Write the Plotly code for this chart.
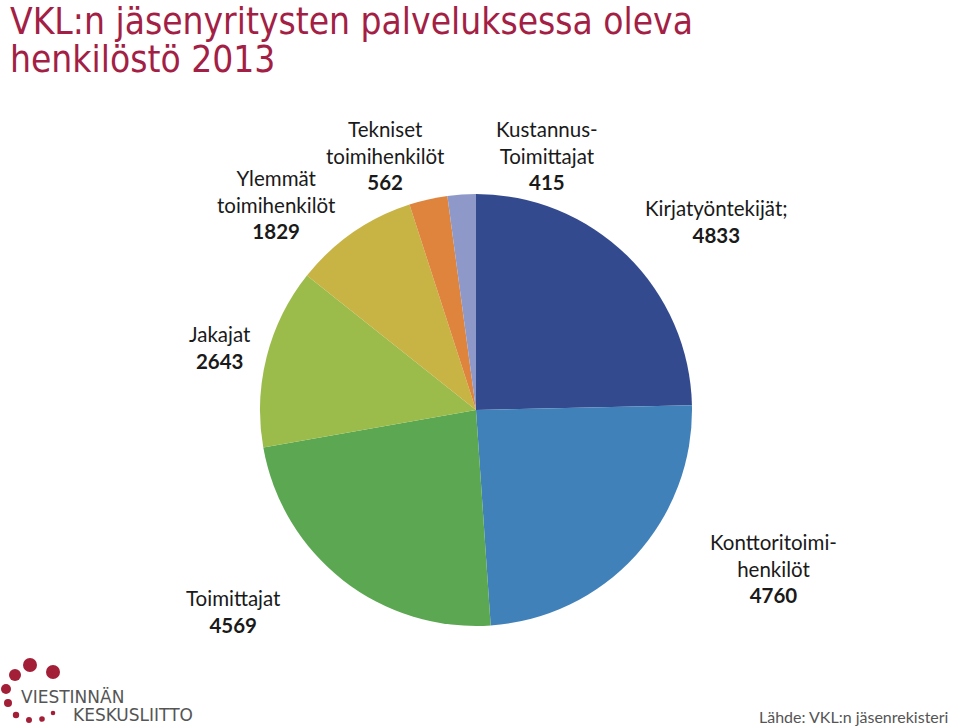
import plotly.graph_objects as go

categories = ["Kirjatyöntekijät", "Konttoritoimihenkilöt", "Toimittajat", "Jakajat",
              "Ylemmät toimihenkilöt", "Tekniset toimihenkilöt", "Kustannus-Toimittajat"]
values = [4833, 4760, 4569, 2643, 1829, 562, 415]
colors = ["#344A8E", "#4181B9", "#5BA752", "#9BBB4A", "#C8B444", "#DE843C", "#8E99C9"]

# label text (name lines) and pixel anchor (x center, y of first line)
label_names = ["Kirjatyöntekijät;", "Konttoritoimi-<br>henkilöt", "Toimittajat", "Jakajat",
               "Ylemmät<br>toimihenkilöt", "Tekniset<br>toimihenkilöt", "Kustannus-<br>Toimittajat"]
label_pos = [(716, 208), (773, 542), (233, 598), (220, 334), (276, 178), (385, 129), (547, 129)]

title_lines = ["VKL:n jäsenyritysten palveluksessa oleva", "henkilöstö 2013"]
source_text = "Lähde: VKL:n jäsenrekisteri"

W, H = 960, 728
cx, cy, r = 476, 410, 216

fig = go.Figure()
fig.add_trace(go.Pie(
    labels=categories, values=values, sort=False, direction="clockwise", rotation=0,
    marker=dict(colors=colors, line=dict(color="white", width=0)),
    textinfo="none", hoverinfo="label+value", showlegend=False,
    domain=dict(x=[(cx - r) / W, (cx + r) / W], y=[(H - cy - r) / H, (H - cy + r) / H]),
))

font_lbl = "Lato, 'Open Sans', sans-serif"
for name, val, (x, y) in zip(label_names, values, label_pos):
    text = f"{name}<br><b>{val}</b>"
    ytop = y - 14
    fig.add_annotation(x=x / W, y=1 - ytop / H, xref="paper", yref="paper",
                       text=text, showarrow=False, xanchor="center", yanchor="top",
                       font=dict(family=font_lbl, size=20.5, color="#1a1a1a"),
                       align="center")

# title (two separate lines to get tight line spacing)
title_font = dict(family="'DejaVu Sans Condensed', 'DejaVu Sans', sans-serif", size=36.8, color="#A31F45")
for line, ytop in zip(title_lines, [-2, 36]):
    fig.add_annotation(x=8 / W, y=1 - ytop / H, xref="paper", yref="paper", xanchor="left", yanchor="top",
                       text=line, showarrow=False, align="left", font=title_font)

# source
fig.add_annotation(x=950 / W, y=1 - 716 / H, xref="paper", yref="paper", xanchor="right", yanchor="middle",
                   text=source_text, showarrow=False,
                   font=dict(family=font_lbl, size=16, color="#555555"))

# logo
dots = [(30, 665, 7), (53, 672, 7), (15, 675, 6), (6, 689, 5), (8, 703, 4),
        (16, 715, 3.2), (29, 720, 3), (42, 719, 2.8), (53, 713, 2.3)]
for x, y, rr in dots:
    fig.add_shape(type="circle", xref="paper", yref="paper",
                  x0=(x - rr) / W, x1=(x + rr) / W, y0=1 - (y + rr) / H, y1=1 - (y - rr) / H,
                  fillcolor="#A31F37", line=dict(width=0))
fig.add_annotation(x=19 / W, y=1 - 697 / H, xref="paper", yref="paper", xanchor="left", yanchor="middle",
                   text="VIESTINNÄN", showarrow=False,
                   font=dict(family="'DejaVu Sans', sans-serif", size=17, color="#555555"))
fig.add_annotation(x=71 / W, y=1 - 715 / H, xref="paper", yref="paper", xanchor="left", yanchor="middle",
                   text="KESKUSLIITTO", showarrow=False,
                   font=dict(family="'DejaVu Sans', sans-serif", size=17, color="#555555"))

fig.update_layout(width=W, height=H, margin=dict(l=0, r=0, t=0, b=0),
                  paper_bgcolor="white", plot_bgcolor="white")
fig.write_html("out.html", config={"displayModeBar": False},
               post_script="document.body.style.margin='0';document.body.style.overflow='hidden';")
